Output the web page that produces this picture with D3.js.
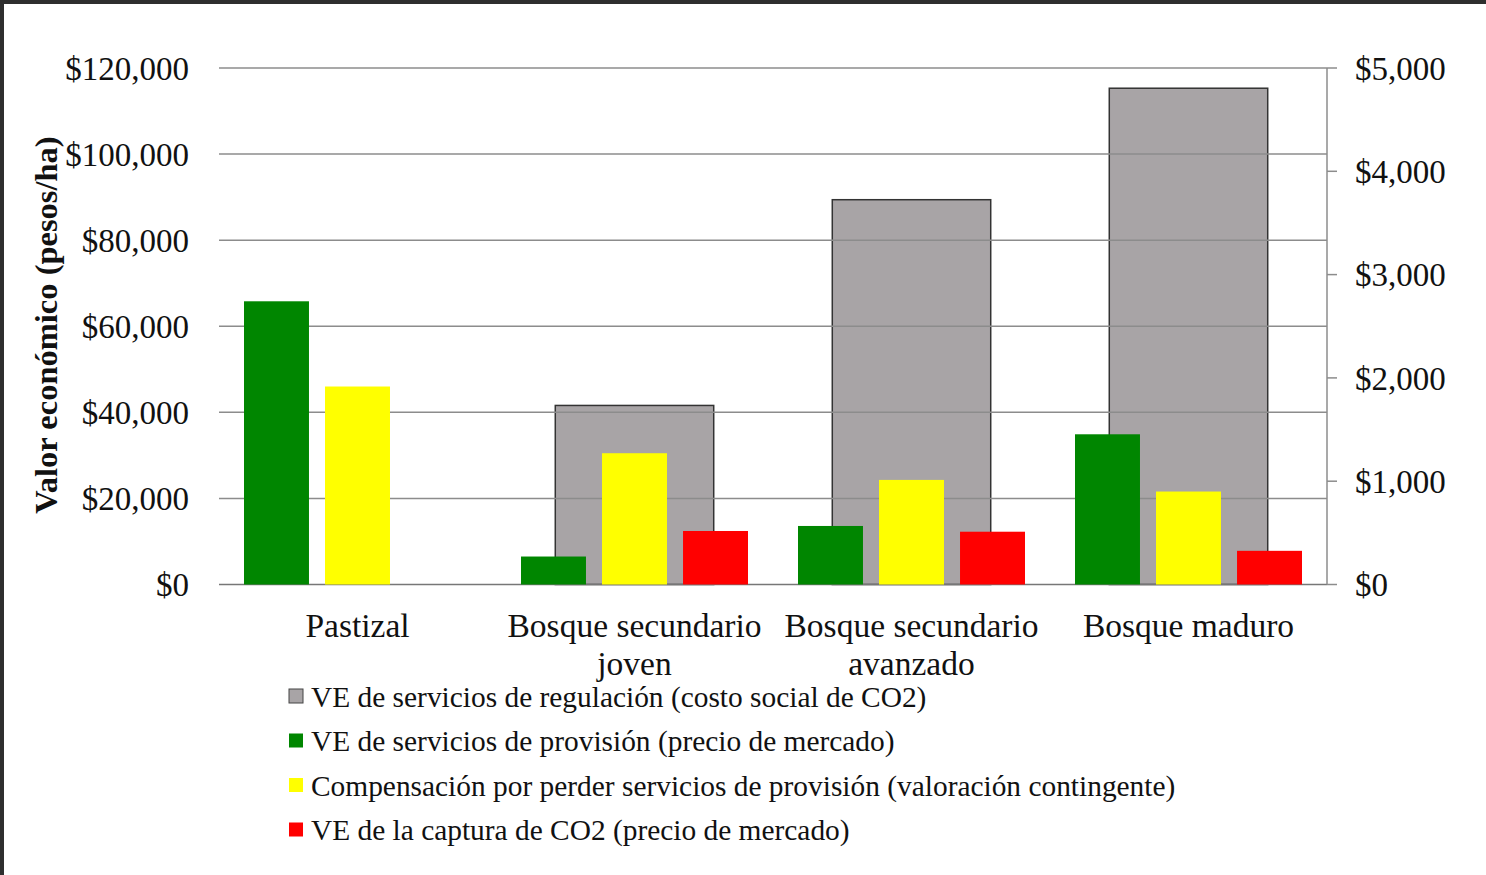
<!DOCTYPE html>
<html>
<head>
<meta charset="utf-8">
<script src="https://cdn.jsdelivr.net/npm/d3@7"></script>
<style>
  body { margin: 0; background: #ffffff; }
  svg text { font-family: "Liberation Serif", "Times New Roman", serif; fill: #111; }
</style>
</head>
<body>
<div id="content"></div>
<script>
// categories and series
var categories = ["Pastizal", "Bosque secundario joven", "Bosque secundario avanzado", "Bosque maduro"];
var catLines = [["Pastizal"], ["Bosque secundario", "joven"], ["Bosque secundario", "avanzado"], ["Bosque maduro"]];
var regulacion = [0, 41600, 89400, 115300];     // grey, left axis
var provision = [65800, 6500, 13600, 34900];    // green, left axis
var compensacion = [46000, 30500, 24300, 21600]; // yellow, left axis
var captura = [0, 518, 511, 326];               // red, right axis
var leftTicks = [0, 20000, 40000, 60000, 80000, 100000, 120000];
var rightTicks = [0, 1000, 2000, 3000, 4000, 5000];
var legendLabels = [
  "VE de servicios de regulación (costo social de CO2)",
  "VE de servicios de provisión (precio de mercado)",
  "Compensación por perder servicios de provisión (valoración contingente)",
  "VE de la captura de CO2 (precio de mercado)"
];
var colors = ["#a8a4a6", "#008600", "#ffff00", "#ff0000"];

var W = 1486, H = 875;
var plotL = 219, plotR = 1327, plotT = 68, plotB = 584.5;

var svg = d3.select("#content").append("svg")
    .attr("width", W)
    .attr("height", H)
    .style("display", "block");

svg.append("rect").attr("width", W).attr("height", H).attr("fill", "#fff");
// dark frame of the screenshot
svg.append("rect").attr("x", 0).attr("y", 0).attr("width", W).attr("height", 4).attr("fill", "#2e2e2e");
svg.append("rect").attr("x", 0).attr("y", 0).attr("width", 4).attr("height", H).attr("fill", "#2e2e2e");

var x0 = d3.scaleBand().domain(categories).range([plotL, plotR]).padding(0);
var x1 = d3.scaleBand().domain(["prov", "comp", "capt"]).range([25, x0.bandwidth() - 25]).paddingInner(0.198);
var yL = d3.scaleLinear().domain([0, 120000]).range([plotB, plotT]);
var yR = d3.scaleLinear().domain([0, 5000]).range([plotB, plotT]);
var fmt = function(d){ return "$" + d3.format(",")(d); };

// grey bars (behind everything)
var greyW = x0.bandwidth() * 0.572;
svg.selectAll(".grey").data(categories).enter().append("rect")
    .attr("class", "grey")
    .attr("x", function(d){ return x0(d) + x0.bandwidth()/2 - greyW/2; })
    .attr("y", function(d, i){ return yL(regulacion[i]); })
    .attr("width", greyW)
    .attr("height", function(d, i){ return plotB - yL(regulacion[i]); })
    .attr("fill", colors[0])
    .attr("stroke", function(d, i){ return regulacion[i] > 0 ? "#333" : "none"; })
    .attr("stroke-width", 1.5);

// gridlines
svg.selectAll(".grid").data(leftTicks).enter().append("line")
    .attr("x1", plotL).attr("x2", plotR)
    .attr("y1", function(d){ return yL(d); })
    .attr("y2", function(d){ return yL(d); })
    .attr("stroke", function(d){ return d === 0 ? "#777" : "#8c8c8c"; })
    .attr("stroke-width", 1.5);

// coloured bars
var series = [
  {key: "prov", vals: provision, color: colors[1], y: yL},
  {key: "comp", vals: compensacion, color: colors[2], y: yL},
  {key: "capt", vals: captura, color: colors[3], y: yR}
];
series.forEach(function(s){
    svg.selectAll(".bar-" + s.key).data(categories).enter().append("rect")
        .attr("class", "bar-" + s.key)
        .attr("x", function(d){ return x0(d) + x1(s.key); })
        .attr("y", function(d, i){ return s.y(s.vals[i]); })
        .attr("width", x1.bandwidth())
        .attr("height", function(d, i){ return plotB - s.y(s.vals[i]); })
        .attr("fill", s.color);
});

// left tick labels
svg.selectAll(".ltick").data(leftTicks).enter().append("text")
    .attr("x", 189)
    .attr("y", function(d){ return yL(d); })
    .attr("dy", "0.36em")
    .attr("text-anchor", "end")
    .style("font-size", "33px")
    .text(fmt);

// right axis
svg.append("line")
    .attr("x1", plotR).attr("x2", plotR)
    .attr("y1", plotT).attr("y2", plotB)
    .attr("stroke", "#8c8c8c").attr("stroke-width", 1.5);
svg.selectAll(".rtickmark").data(rightTicks).enter().append("line")
    .attr("x1", plotR).attr("x2", plotR + 10)
    .attr("y1", function(d){ return yR(d); })
    .attr("y2", function(d){ return yR(d); })
    .attr("stroke", "#8c8c8c").attr("stroke-width", 1.5);
svg.selectAll(".rtick").data(rightTicks).enter().append("text")
    .attr("x", 1355)
    .attr("y", function(d){ return yR(d); })
    .attr("dy", "0.36em")
    .style("font-size", "33px")
    .text(fmt);

// category labels
categories.forEach(function(c, i){
    var t = svg.append("text")
        .attr("x", x0(c) + x0.bandwidth()/2)
        .attr("y", 637)
        .attr("text-anchor", "middle")
        .style("font-size", "33.5px");
    catLines[i].forEach(function(line, j){
        t.append("tspan")
            .attr("x", x0(c) + x0.bandwidth()/2)
            .attr("dy", j === 0 ? 0 : 38)
            .text(line);
    });
});

// y axis title
svg.append("text")
    .attr("transform", "translate(57,325) rotate(-90)")
    .attr("text-anchor", "middle")
    .style("font-size", "32.5px")
    .style("font-weight", "bold")
    .text("Valor económico (pesos/ha)");

// legend
legendLabels.forEach(function(lab, i){
    var cy = 696 + i * 44.5;
    svg.append("rect")
        .attr("x", 289).attr("y", cy - 7)
        .attr("width", 14).attr("height", 14)
        .attr("fill", colors[i])
        .attr("stroke", i === 0 ? "#444" : "none")
        .attr("stroke-width", 1);
    svg.append("text")
        .attr("x", 311).attr("y", cy)
        .attr("dy", "0.36em")
        .style("font-size", "29.4px")
        .text(lab);
});
</script>
</body>
</html>
